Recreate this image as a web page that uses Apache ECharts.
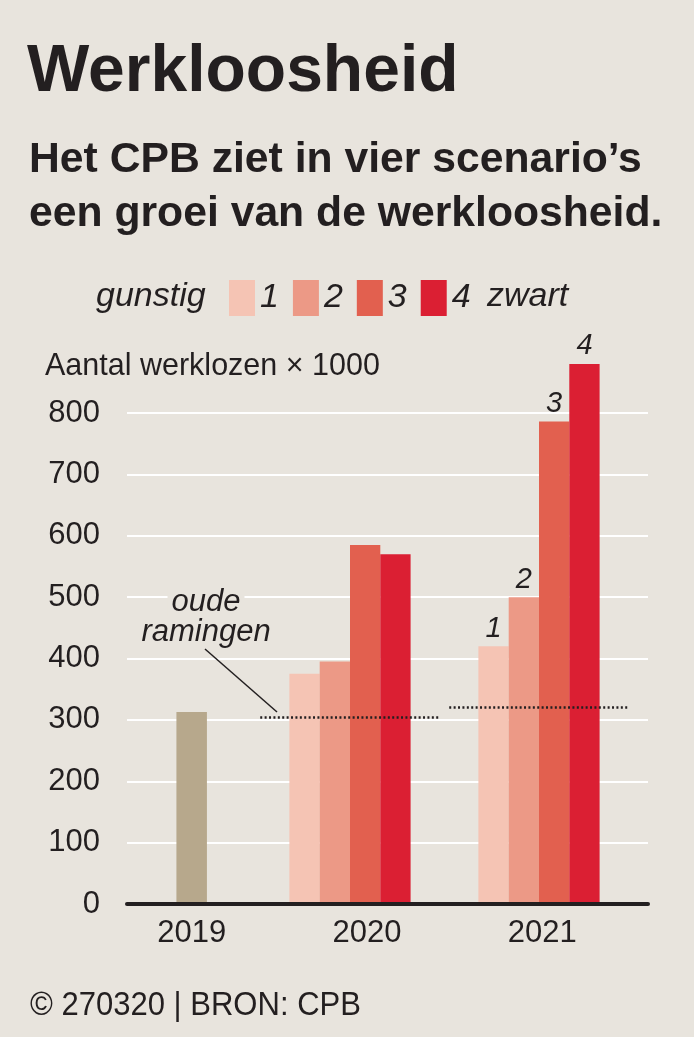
<!DOCTYPE html>
<html>
<head>
<meta charset="utf-8">
<title>Werkloosheid</title>
<script src="https://cdn.jsdelivr.net/npm/echarts/dist/echarts.min.js"></script>
<style>
  html, body { margin: 0; padding: 0; background: #e8e4dd; }
  #main { width: 694px; height: 1037px; }
</style>
</head>
<body>
<div id="main"></div>
<script type="text/javascript">
// data (x 1000 werklozen)
var years = ['2019', '2020', '2021'];
var actual = [313, null, null];
var scenario1 = [null, 375, 420];
var scenario2 = [null, 395, 500];
var scenario3 = [null, 585, 786];
var scenario4 = [null, 570, 880];
var oldEstimates = [null, 304, 320];   // 'oude ramingen'
var scenarioNames = ['1', '2', '3', '4'];
var yMin = 0, yMax = 800, yStep = 100;

var bg = '#e8e4dd';
var ink = '#231f20';
var font = '"Liberation Sans", Arial, sans-serif';
var scenarioColors = ['#f5c4b4', '#ec9986', '#e2604f', '#db1f33'];

var chart = echarts.init(document.getElementById('main'));

var scenarios = [scenario1, scenario2, scenario3, scenario4];
var barSeries = scenarios.map(function (vals, k) {
    return {
        name: scenarioNames[k],
        type: 'bar',
        xAxisIndex: 1,
        yAxisIndex: 1,
        barWidth: 30.3,
        barGap: '0%',
        clip: false,
        z: 3,
        itemStyle: { color: scenarioColors[k] },
        label: {
            show: false, position: 'top', distance: 3, formatter: '{a}',
            fontSize: 29, fontStyle: 'italic', color: ink, fontFamily: font
        },
        data: vals.map(function (v, i) {
            if (v == null) return '-';
            // only the last year gets the scenario number on top
            return i === years.length - 1 ? { value: v, label: { show: true } } : v;
        })
    };
});

var hiddenY = { type: 'value', min: yMin, max: yMax, interval: yStep, show: false };

chart.setOption({
    backgroundColor: bg,
    animation: false,
    textStyle: { fontFamily: font },
    grid: [
        { left: 127, right: 46, top: 413, bottom: 133, outerBoundsMode: 'none' },   // gridlines + baseline
        { left: 66.5, right: 60.5, top: 413, bottom: 133, outerBoundsMode: 'none' }, // scenario bars
        { left: 104, right: 64, top: 413, bottom: 133, outerBoundsMode: 'none' }     // 2019 bar + year labels
    ],
    legend: {
        data: scenarioNames,
        left: 224, top: 275,
        icon: 'rect',
        itemWidth: 26, itemHeight: 36, itemGap: 14,
        selectedMode: false,
        textStyle: { fontSize: 34, fontStyle: 'italic', color: ink, fontFamily: font }
    },
    xAxis: [
        {
            gridIndex: 0, type: 'value', min: 0, max: 1, z: 10,
            axisLine: { show: true, lineStyle: { color: ink, width: 4 } },
            axisTick: { show: false }, axisLabel: { show: false }, splitLine: { show: false }
        },
        { gridIndex: 1, type: 'category', data: years, show: false },
        {
            gridIndex: 2, type: 'category', data: years,
            axisLine: { show: false }, axisTick: { show: false },
            axisLabel: { margin: 14, fontSize: 31, color: ink, fontFamily: font }
        }
    ],
    yAxis: [
        {
            gridIndex: 0, type: 'value', min: yMin, max: yMax, interval: yStep,
            axisLine: { show: false }, axisTick: { show: false },
            axisLabel: { margin: 27, fontSize: 31, color: ink, fontFamily: font },
            splitLine: { lineStyle: { color: '#ffffff', width: 2 } }
        },
        Object.assign({ gridIndex: 1 }, hiddenY),
        Object.assign({ gridIndex: 2 }, hiddenY)
    ],
    series: [
        {
            name: '2019',
            type: 'bar',
            xAxisIndex: 2,
            yAxisIndex: 2,
            barWidth: 30.5,
            z: 3,
            itemStyle: { color: '#b7a88c' },
            data: actual.map(function (v) { return v == null ? '-' : v; })
        }
    ].concat(barSeries).concat([
        {
            name: 'oude ramingen',
            type: 'custom',
            xAxisIndex: 1,
            yAxisIndex: 1,
            silent: true,
            z: 5,
            encode: { x: 0, y: 1 },
            data: oldEstimates.map(function (v, i) { return v == null ? null : [i, v]; })
                              .filter(function (d) { return d; }),
            renderItem: function (params, api) {
                var p = api.coord([api.value(0), api.value(1)]);
                var band = api.size([1, 0])[0];
                return {
                    type: 'line',
                    shape: { x1: p[0] - band * 0.475, y1: p[1], x2: p[0] + band * 0.475, y2: p[1] },
                    style: { stroke: ink, lineWidth: 2.5, lineDash: [2, 2.4] }
                };
            }
        }
    ]),
    graphic: [
        { type: 'text', x: 27, y: 73, style: { text: 'Werkloosheid', font: 'bold 66px ' + font, fill: ink, verticalAlign: 'middle' } },
        { type: 'text', x: 29, y: 160, style: { text: 'Het CPB ziet in vier scenario\u2019s', font: 'bold 42.7px ' + font, fill: ink, verticalAlign: 'middle' } },
        { type: 'text', x: 29, y: 214, style: { text: 'een groei van de werkloosheid.', font: 'bold 42.7px ' + font, fill: ink, verticalAlign: 'middle' } },
        { type: 'text', x: 96, y: 297, style: { text: 'gunstig', font: 'italic 34px ' + font, fill: ink, verticalAlign: 'middle' } },
        { type: 'text', x: 487, y: 297, style: { text: 'zwart', font: 'italic 34px ' + font, fill: ink, verticalAlign: 'middle' } },
        { type: 'text', x: 45, y: 367, style: { text: 'Aantal werklozen \u00d7 1000', font: '30.5px ' + font, fill: ink, verticalAlign: 'middle' } },
        {
            type: 'text', x: 206, y: 602, z: 20,
            style: { text: 'oude', font: 'italic 31px ' + font, fill: ink, align: 'center', verticalAlign: 'middle', backgroundColor: bg, padding: [0, 4] }
        },
        {
            type: 'text', x: 206, y: 632, z: 20,
            style: { text: 'ramingen', font: 'italic 31px ' + font, fill: ink, align: 'center', verticalAlign: 'middle' }
        },
        { type: 'line', z: 20, shape: { x1: 205, y1: 649, x2: 277, y2: 712 }, style: { stroke: ink, lineWidth: 1.5 } },
        { type: 'text', x: 30, y: 1006, scaleX: 0.94, style: { text: '\u00a9 270320 | BRON: CPB', font: '33px ' + font, fill: ink, verticalAlign: 'middle' } }
    ]
});
</script>
</body>
</html>
